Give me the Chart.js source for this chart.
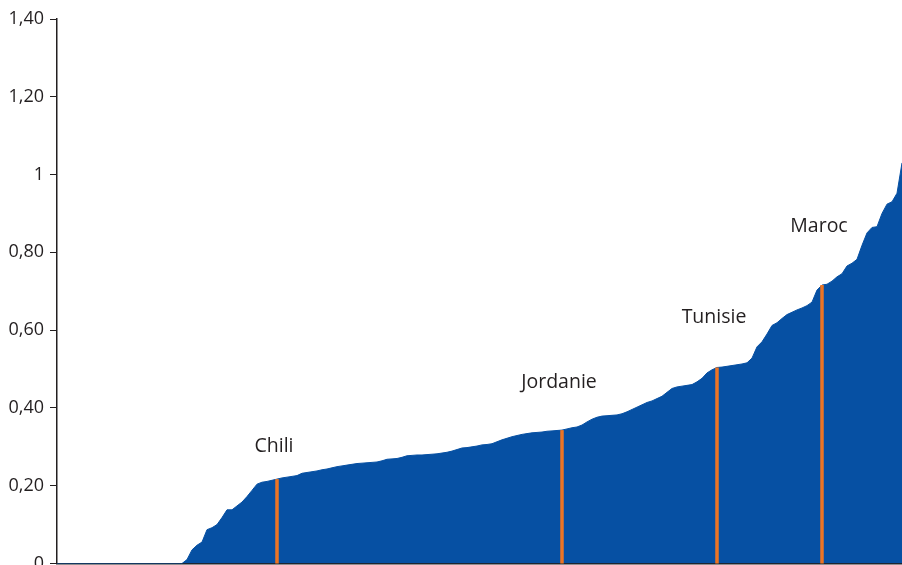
<!DOCTYPE html>
<html>
<head>
<meta charset="utf-8">
<script src="https://cdn.jsdelivr.net/npm/chart.js@4"></script>
<style>
  html, body { margin: 0; padding: 0; background: #ffffff; }
  #wrap { width: 902px; height: 565px; position: relative; }
</style>
</head>
<body>
<div id="wrap"><canvas id="graficoPays"></canvas></div>
<script>
// valeurs classées (un point par pays)
var valeurs = [
  0, 0, 0, 0, 0, 0, 0, 0, 0, 0,
  0, 0, 0, 0, 0, 0, 0, 0, 0, 0,
  0, 0, 0, 0, 0, 0, 0.010, 0.035, 0.047, 0.055,
  0.087, 0.092, 0.100, 0.118, 0.138, 0.138, 0.148, 0.158, 0.172, 0.188,
  0.204, 0.209, 0.211, 0.214, 0.217, 0.220, 0.222, 0.224, 0.226, 0.232,
  0.234, 0.236, 0.238, 0.241, 0.243, 0.246, 0.249, 0.251, 0.253, 0.255,
  0.257, 0.258, 0.259, 0.260, 0.261, 0.264, 0.268, 0.269, 0.270, 0.273,
  0.277, 0.278, 0.279, 0.279, 0.280, 0.281, 0.282, 0.284, 0.286, 0.289,
  0.293, 0.297, 0.298, 0.300, 0.302, 0.305, 0.306, 0.308, 0.313, 0.318,
  0.322, 0.326, 0.329, 0.332, 0.334, 0.336, 0.337, 0.338, 0.340, 0.341,
  0.342, 0.343, 0.346, 0.349, 0.351, 0.356, 0.364, 0.371, 0.376, 0.379,
  0.380, 0.381, 0.382, 0.385, 0.390, 0.396, 0.402, 0.408, 0.414, 0.418,
  0.424, 0.430, 0.440, 0.450, 0.454, 0.456, 0.458, 0.460, 0.467, 0.476,
  0.490, 0.498, 0.504, 0.505, 0.507, 0.509, 0.511, 0.513, 0.516, 0.528,
  0.557, 0.570, 0.590, 0.612, 0.619, 0.630, 0.640, 0.646, 0.652, 0.657,
  0.663, 0.672, 0.703, 0.716, 0.718, 0.726, 0.737, 0.745, 0.765, 0.772,
  0.782, 0.818, 0.850, 0.864, 0.866, 0.900, 0.924, 0.930, 0.952, 1.030
];

// pays mis en évidence : nom et rang dans la série
var paysNoms = ["Chili", "Jordanie", "Tunisie", "Maroc"];
var paysRangs = [44, 101, 132, 153];
// hauteur (en valeur) où est posé le nom du pays
var paysEtiquetteY = [0.302, 0.465, 0.632, 0.866];

// graduations de l'axe vertical
var graduations = [0, 0.2, 0.4, 0.6, 0.8, 1, 1.2, 1.4];

var rangs = valeurs.map(function (v, i) { return i + 1; });

var couleurTexte = "#231f20";

// trait orange + nom du pays
var pluginPays = {
    id: "pluginPays",
    afterDatasetsDraw: function (chart) {
        var ctx = chart.ctx;
        var sx = chart.scales.x;
        var sy = chart.scales.y;
        ctx.save();
        for (var i = 0; i < paysNoms.length; i++) {
            var r = paysRangs[i];
            var x = sx.getPixelForValue(r);
            ctx.beginPath();
            ctx.strokeStyle = "#ec7424";
            ctx.lineWidth = 3.5;
            ctx.moveTo(x, sy.getPixelForValue(valeurs[r]));
            ctx.lineTo(x, sy.getPixelForValue(0));
            ctx.stroke();

            ctx.fillStyle = couleurTexte;
            ctx.font = "19.5px 'Open Sans'";
            ctx.textAlign = "center";
            ctx.textBaseline = "middle";
            ctx.fillText(paysNoms[i], x - 3, sy.getPixelForValue(paysEtiquetteY[i]));
        }
        ctx.restore();
    }
};

var config = {
    type: "line",
    data: {
        labels: rangs,
        datasets: [
            {
                data: valeurs,
                fill: "origin",
                backgroundColor: "#0650a3",
                borderColor: "#0650a3",
                borderWidth: 1,
                pointRadius: 0,
                tension: 0
            }
        ]
    },
    options: {
        responsive: true,
        maintainAspectRatio: false,
        animation: false,
        layout: {
            padding: { top: 19, right: 0, bottom: 1.5, left: 0 }
        },
        plugins: {
            legend: { display: false },
            tooltip: { enabled: false }
        },
        scales: {
            x: {
                type: "category",
                offset: false,
                grid: { display: false, drawTicks: false },
                ticks: { display: false },
                border: { display: true, color: couleurTexte, width: 1.5 },
                afterFit: function (s) { s.height = 0; }
            },
            y: {
                min: 0,
                max: 1.4,
                afterBuildTicks: function (s) {
                    s.ticks = graduations.map(function (v) { return { value: v }; });
                },
                grid: { drawOnChartArea: false, drawTicks: true, tickLength: 7, color: couleurTexte, lineWidth: 1 },
                border: { display: true, color: couleurTexte, width: 1.5 },
                ticks: {
                    color: couleurTexte,
                    padding: 6,
                    font: { family: "'Open Sans'", size: 18 },
                    callback: function (v) {
                        if (v === 0) return "0";
                        if (Math.abs(v - 1) < 1e-9) return "1";
                        return v.toFixed(2).replace(".", ",");
                    }
                },
                afterFit: function (s) {
                    s.width = 57;
                    s.paddingTop = 0;
                    s.paddingBottom = 0;
                }
            }
        }
    },
    plugins: [pluginPays]
};

var graficoPays = new Chart(document.getElementById("graficoPays"), config);
</script>
</body>
</html>
